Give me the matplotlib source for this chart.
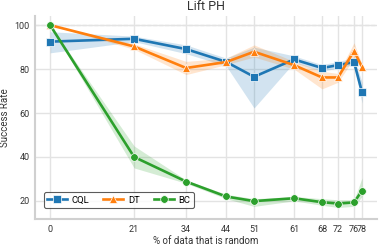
import numpy as np
import matplotlib
matplotlib.use('Agg')
import matplotlib.pyplot as plt

plt.rcParams['font.family'] = ['Roboto', 'DejaVu Sans']

# % of data that is random
pct_random = [0, 21, 34, 44, 51, 61, 68, 72, 76, 78]

# mean success rates
cql = [92.5, 93.8, 89.1, 83.3, 76.5, 84.4, 80.5, 81.8, 83.2, 69.4]
dt = [100, 90.3, 80.5, 83.2, 87.9, 81.8, 76.2, 76.2, 88.3, 80.9]
bc = [100, 40, 28.8, 22.0, 19.9, 21.2, 19.4, 18.8, 19.3, 24.7]

# confidence bands (lower, upper)
cql_lo = [87.4, 92.5, 87.0, 81.5, 62.3, 83.0, 79.0, 80.5, 82.0, 64.5]
cql_hi = [97.0, 95.0, 91.0, 85.0, 90.0, 86.0, 82.0, 83.5, 85.0, 74.0]
dt_lo = [100, 89.0, 77.5, 82.0, 85.5, 80.0, 71.0, 74.0, 85.0, 80.0]
dt_hi = [100, 91.5, 83.5, 85.0, 91.0, 83.5, 79.0, 78.0, 92.0, 82.0]
bc_lo = [100, 35.0, 28.0, 21.0, 17.5, 20.0, 18.0, 17.0, 17.5, 22.0]
bc_hi = [100, 45.0, 29.5, 23.0, 21.0, 22.0, 21.0, 20.5, 20.5, 30.5]

fig = plt.figure(figsize=(3.82, 2.49), dpi=100)
ax = fig.add_axes([0.092, 0.12, 0.895, 0.816])

series = [
    ('CQL', cql, cql_lo, cql_hi, '#1f77b4', 's'),
    ('DT', dt, dt_lo, dt_hi, '#ff7f0e', '^'),
    ('BC', bc, bc_lo, bc_hi, '#2ca02c', 'o'),
]
for name, y, lo, hi, c, m in series:
    ax.fill_between(pct_random, lo, hi, color=c, alpha=0.2, lw=0)
    ax.plot(pct_random, y, color=c, marker=m, ms=5.5, lw=1.9,
            markeredgecolor='white', markeredgewidth=0.5, label=name)

ax.axhline(100, color='#999999', ls='--', lw=0.8, zorder=0)

ax.set_xticks(pct_random)
ax.set_xticklabels([str(p) for p in pct_random])
ax.set_yticks([20, 40, 60, 80, 100])
ax.set_xlim(-3.75, 81.75)
ax.set_ylim(11.7, 104.2)

ax.grid(True, color='#e3e3e3', lw=1)
ax.set_axisbelow(True)
for s in ['top', 'right']:
    ax.spines[s].set_visible(False)
for s in ['left', 'bottom']:
    ax.spines[s].set_color('#d0d0d0')
    ax.spines[s].set_linewidth(1.5)
ax.tick_params(length=0, labelsize=6.5, colors='#333333', pad=4)

ax.set_title('Lift PH', fontsize=9, color='#333333', pad=4)
ax.set_xlabel('% of data that is random', fontsize=7, color='#333333', labelpad=2)
ax.set_ylabel('Success Rate', fontsize=7, color='#333333', labelpad=3)

leg = ax.legend(loc='lower left', ncol=3, fontsize=6.8, frameon=True,
                bbox_to_anchor=(0.025, 0.055), handlelength=2.1, columnspacing=1.5,
                borderpad=0.35, handletextpad=0.5, borderaxespad=0)
leg.get_frame().set_edgecolor('#333333')
leg.get_frame().set_linewidth(0.8)

plt.savefig('out.png', dpi=100)
